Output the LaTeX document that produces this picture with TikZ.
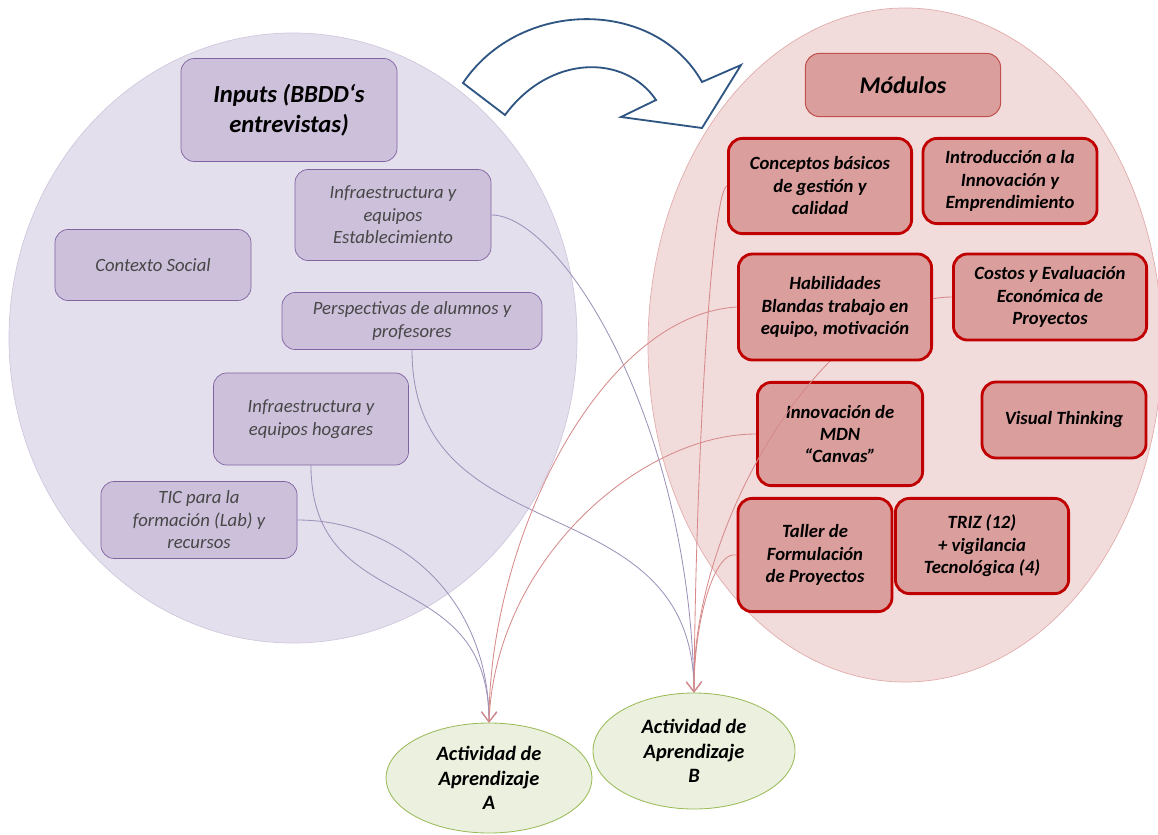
\documentclass[tikz,border=0pt]{standalone}
\usepackage{fontspec}
\setmainfont{Carlito}
\usepackage{tikz}
\usetikzlibrary{arrows.meta,shapes.geometric}
\definecolor{inpfill}{RGB}{228,223,236}
\definecolor{inpedge}{RGB}{208,200,222}
\definecolor{inpbox}{RGB}{204,192,218}
\definecolor{inpline}{RGB}{128,100,162}
\definecolor{inplink}{RGB}{158,146,186}
\definecolor{modfill}{RGB}{242,220,219}
\definecolor{modedge}{RGB}{226,172,172}
\definecolor{modbox}{RGB}{218,158,156}
\definecolor{modred}{RGB}{192,0,0}
\definecolor{modline}{RGB}{192,80,77}
\definecolor{modlink}{RGB}{214,138,138}
\definecolor{actfill}{RGB}{235,241,222}
\definecolor{actline}{RGB}{155,187,89}
\definecolor{flowblue}{RGB}{47,85,130}
\pgfdeclarelayer{back}
\pgfdeclarelayer{links}
\pgfsetlayers{back,links,main}
\tikzset{
  inputbox/.style={draw=inpline, fill=inpbox, rounded corners=3.3mm, line width=0.5pt,
    align=center, inner sep=1pt, font=\fontsize{13.3}{16}\selectfont\itshape, text=black!72},
  headbox/.style={draw=inpline, fill=inpbox, rounded corners=3.3mm, line width=0.5pt,
    align=center, inner sep=1pt, font=\fontsize{17.5}{21.5}\selectfont\bfseries\itshape},
  modulebox/.style={draw=modred, fill=modbox, rounded corners=3.5mm, line width=2pt,
    align=center, inner sep=1pt, font=\fontsize{13.3}{16}\selectfont\bfseries\itshape},
  modhead/.style={draw=modline, fill=modbox, rounded corners=3.5mm, line width=0.7pt,
    align=center, inner sep=1pt, font=\fontsize{17}{21}\selectfont\bfseries\itshape},
  activity/.style={ellipse, draw=actline, fill=actfill, line width=0.6pt, inner sep=0pt,
    align=center, font=\fontsize{14.5}{17.5}\selectfont\bfseries\itshape},
  inputlink/.style={draw=inplink, line width=0.6pt, -{Straight Barb[length=2.5mm,width=3.8mm]}},
  modulelink/.style={draw=modlink, line width=0.6pt, -{Straight Barb[length=2.5mm,width=3.8mm]}},
}

\begin{document}
\begin{tikzpicture}[x=0.25mm, y=-0.25mm]
  \useasboundingbox (0,0) rectangle (1158,834);

  \begin{pgfonlayer}{back}
    \fill[inpfill, draw=inpedge, line width=0.5pt] (293,338) ellipse [x radius=284, y radius=305];
    \fill[modfill, draw=modedge, line width=0.5pt] (905,345) ellipse [x radius=257, y radius=337];
    \node[modulebox, minimum width=41.3mm, minimum height=25.8mm] (innov) at (840,434)
      {Innovación de\\MDN\\“Canvas”};
  \end{pgfonlayer}

  % curved arrow from inputs to modules
  \draw[flowblue, fill=white, line width=1.3pt]
    (463,83) .. controls (520,-2) and (655,-2) .. (702,82) -- (741,65) -- (702,128)
    -- (621,117) -- (656,100) .. controls (625,54) and (550,54) .. (505,115) -- cycle;

  % inputs
  \node[headbox, minimum width=54mm, minimum height=25.75mm] (inputs) at (289,110)
    {Inputs (BBDD‘s\\entrevistas)};
  \node[inputbox, minimum width=49mm, minimum height=22.75mm] (estab) at (393,215)
    {Infraestructura y\\equipos\\Establecimiento};
  \node[inputbox, minimum width=49mm, minimum height=17.75mm] (contexto) at (153,265)
    {Contexto Social};
  \node[inputbox, minimum width=65mm, minimum height=14.25mm] (persp) at (412,321)
    {Perspectivas de alumnos y\\profesores};
  \node[inputbox, minimum width=48.75mm, minimum height=23mm] (hogares) at (311,419)
    {Infraestructura y\\equipos hogares};
  \node[inputbox, minimum width=49mm, minimum height=19.25mm] (tic) at (199,520)
    {TIC para la\\formación (Lab) y\\recursos};

  % modules
  \node[modhead, minimum width=48.8mm, minimum height=15.8mm] (modulos) at (903,85) {Módulos};
  \node[modulebox, minimum width=45.8mm, minimum height=23.8mm] (concep) at (820,186)
    {Conceptos básicos\\de gestión y\\calidad};
  \node[modulebox, minimum width=43.5mm, minimum height=21.3mm] (intro) at (1010,181)
    {Introducción a la\\Innovación y\\Emprendimiento};
  \node[modulebox, minimum width=48.3mm, minimum height=26.5mm] (habil) at (835,307)
    {Habilidades\\Blandas trabajo en\\equipo, motivación};
  \node[modulebox, minimum width=48.3mm, minimum height=21.5mm] (costos) at (1050,297)
    {Costos y Evaluación\\Económica de\\Proyectos};
  \node[modulebox, minimum width=41mm, minimum height=19mm] (visual) at (1064,420)
    {Visual Thinking};
  \node[modulebox, minimum width=38.5mm, minimum height=28.3mm] (taller) at (815,555)
    {Taller de\\Formulación\\de Proyectos};
  \node[modulebox, minimum width=43.3mm, minimum height=23.8mm] (triz) at (982,546)
    {TRIZ (12)\\+ vigilancia\\Tecnológica (4)};

  % learning activities
  \node[activity, minimum width=51.5mm, minimum height=27.5mm] (actA) at (489,778)
    {Actividad de\\Aprendizaje\\A};
  \node[activity, minimum width=50.5mm, minimum height=29mm] (actB) at (694,751)
    {Actividad de\\Aprendizaje\\B};

  \begin{pgfonlayer}{links}
    \draw[inputlink] (estab.east) .. controls +(69,0) and +(-4,-273) .. (actB.north);
    \draw[inputlink] (persp.south) .. controls +(0,210) and +(0,-213) .. (actB.north);
    \draw[inputlink] (hogares.south) .. controls +(0,155) and +(0,-162) .. (actA.north);
    \draw[inputlink] (tic.east) .. controls +(103,0) and +(0,-123) .. (actA.north);
    \draw[modulelink] (concep.west) .. controls +(-15,5) and +(2,-243) .. (actB.north);
    \draw[modulelink] (habil.west) .. controls +(-137,8) and +(0,-183) .. (actA.north);
    \draw[modulelink] (costos.west) .. controls +(-122,0) and +(-4,-173) .. (actB.north);
    \draw[modulelink] (innov.west) .. controls +(-116,0) and +(6,-162) .. (actA.north);
    \draw[modulelink] (taller.west) .. controls +(-22,-5) and +(0,-73) .. (actB.north);
  \end{pgfonlayer}
\end{tikzpicture}
\end{document}
